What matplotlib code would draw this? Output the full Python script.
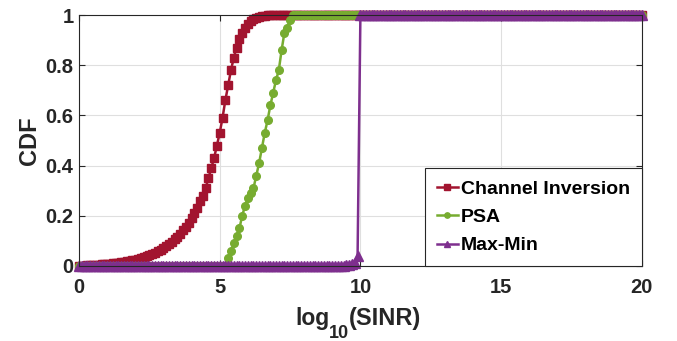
import numpy as np
import matplotlib
matplotlib.use("Agg")
from matplotlib import pyplot as plt

plt.rcParams['font.family'] = ['Liberation Sans', 'DejaVu Sans']
plt.rcParams['font.weight'] = 'bold'

# x grid of the simulation (log10 SINR), step 0.1
x = np.round(np.arange(0, 201) * 0.1, 1)

# Channel Inversion: values 0.0 .. 6.7, then 1 after
ci_rise = [0.000, 0.001, 0.001, 0.002, 0.002, 0.003, 0.004, 0.005, 0.006, 0.007,
           0.008, 0.009, 0.010, 0.011, 0.013, 0.014, 0.016, 0.018, 0.020, 0.022,
           0.025, 0.028, 0.031, 0.034, 0.038, 0.042, 0.047, 0.052, 0.058, 0.064,
           0.071, 0.079, 0.087, 0.096, 0.106, 0.117, 0.129, 0.142, 0.157, 0.173,
           0.190, 0.210, 0.230, 0.260, 0.280, 0.310, 0.350, 0.390, 0.430, 0.480,
           0.530, 0.590, 0.660, 0.720, 0.780, 0.830, 0.870, 0.905, 0.930, 0.950,
           0.965, 0.975, 0.983, 0.989, 0.993, 0.996, 0.998, 0.999]
channel_inv = ci_rise + [1.0] * (len(x) - len(ci_rise))

# PSA: zero up to 5.2, rise 5.3 .. 7.5, then 1
psa_rise = [0.03, 0.06, 0.09, 0.12, 0.15, 0.20, 0.24, 0.27, 0.29, 0.31,
            0.36, 0.41, 0.47, 0.53, 0.58, 0.64, 0.69, 0.74, 0.78, 0.86,
            0.93, 0.95, 0.98]
psa = [0.0] * 53 + psa_rise + [1.0] * (len(x) - 53 - len(psa_rise))

# Max-Min: almost zero until 9.9, jumps to 1 at 10
mm_rise = [0.002, 0.004, 0.007, 0.012, 0.04]
max_min = [0.0] * 95 + mm_rise + [1.0] * (len(x) - 100)

W, H = 677, 341
fig = plt.figure(figsize=(W / 100, H / 100), dpi=100)
ax = fig.add_axes([0.1167, 0.22, 0.8313, 0.736])

ax.plot(x, channel_inv, '-s', color='#A2142F', lw=1.8, ms=5.5, clip_on=False,
        label='Channel Inversion')
ax.plot(x, psa, '-o', color='#77AC30', lw=1.8, ms=5.5, clip_on=False, label='PSA')
ax.plot(x, max_min, '-^', color='#7E2F8E', lw=1.8, ms=7, clip_on=False, label='Max-Min')

ax.set_xlim(0, 20)
ax.set_ylim(0, 1)
ax.set_xticks([0, 5, 10, 15, 20])
ax.set_yticks([0, 0.2, 0.4, 0.6, 0.8, 1])
ax.set_yticklabels(['0', '0.2', '0.4', '0.6', '0.8', '1'])
ax.grid(True, color='#dfdfdf', lw=0.8)
ax.set_axisbelow(True)
ax.tick_params(direction='in', top=True, right=True, length=4, width=0.8,
               labelsize=14.5, colors='#262626')
ax.tick_params(axis='x', pad=9)
ax.tick_params(axis='y', pad=4)
for lab in ax.get_xticklabels() + ax.get_yticklabels():
    lab.set_fontweight('bold')
for s in ax.spines.values():
    s.set_color('#262626')
    s.set_linewidth(0.8)

# x label built from pieces so the subscript is as big as in the original
lab_kw = dict(fontweight='bold', color='#262626', va='baseline', ha='left')
fig.text(295 / W, 1 - 325 / H, 'log', fontsize=16.5, **lab_kw)
fig.text(329 / W, 1 - 338 / H, '10', fontsize=13, **lab_kw)
fig.text(349 / W, 1 - 325 / H, '(SINR)', fontsize=17, **lab_kw)
ax.set_ylabel('CDF', fontsize=17, fontweight='bold', color='#262626', labelpad=3)

leg = ax.legend(loc='lower right', borderaxespad=0, fancybox=False, framealpha=1,
                edgecolor='#262626', prop={'size': 14, 'weight': 'bold'},
                handlelength=1.1, handletextpad=0.15, labelspacing=0.55,
                borderpad=0.6, markerscale=0.7)
leg.get_frame().set_linewidth(0.8)

fig.savefig('out.png', dpi=100)
